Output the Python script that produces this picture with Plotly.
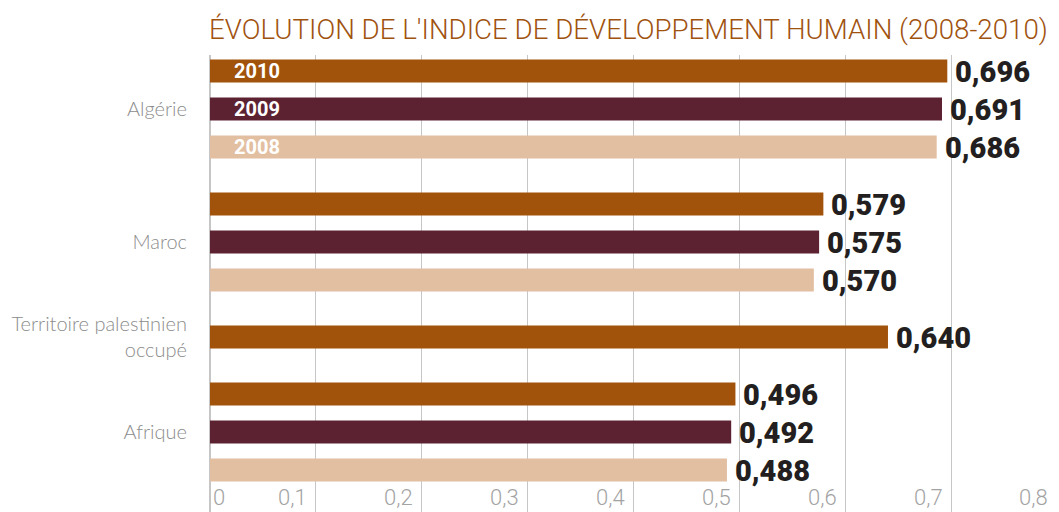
import plotly.graph_objects as go

# ---- data ----
countries = ["Algérie", "Maroc", "Territoire palestinien<br>occupé", "Afrique"]
years = ["2010", "2009", "2008"]
values_2010 = [0.696, 0.579, 0.640, 0.496]
values_2009 = [0.691, 0.575, None, 0.492]
values_2008 = [0.686, 0.570, None, 0.488]
x_tick_values = [0, 0.1, 0.2, 0.3, 0.4, 0.5, 0.6, 0.7, 0.8]
x_tick_labels = ["0", "0,1", "0,2", "0,3", "0,4", "0,5", "0,6", "0,7", "0,8"]
title_text = "ÉVOLUTION DE L'INDICE DE DÉVELOPPEMENT HUMAIN (2008-2010)"

colors = {"2010": "#a1520b", "2009": "#5c2232", "2008": "#e2bfa1"}
series = {"2010": values_2010, "2009": values_2009, "2008": values_2008}

# ---- layout computation: rows per country, gap between groups ----
GAP = 0.5
row_pos = {y: [] for y in years}
centers = []
cur = 0.0
for i in range(len(countries)):
    present = [y for y in years if series[y][i] is not None]
    start = cur
    for y in present:
        row_pos[y].append(cur)
        cur += 1
    for y in years:
        if series[y][i] is None:
            row_pos[y].append(None)
    centers.append(start + (len(present) - 1) / 2)
    cur += GAP

# page body has an 8px margin -> figure drawn at (8, 8)
OFF = 8
W, H = 1059 - OFF, 512 - OFF
plot_left = 210 - OFF
plot_top = 55 - OFF
plot_bottom = H
px_per_row = 38
first_px = 71 - OFF
top_val = -(first_px - plot_top) / px_per_row
bottom_val = top_val + (plot_bottom - plot_top) / px_per_row
plot_h = plot_bottom - plot_top

def paper_y(px):
    return (plot_bottom - px) / plot_h

fig = go.Figure()
annotations = []
value_font = dict(family="Roboto, sans-serif", size=29, color="#231f20", weight=900)
for y in years:
    xs, ys = [], []
    for v, p in zip(series[y], row_pos[y]):
        if v is None:
            continue
        xs.append(v)
        ys.append(p)
        annotations.append(dict(
            x=v, y=p, xref="x", yref="y", text=f"{v:.3f}".replace(".", ","),
            showarrow=False, xanchor="left", yanchor="middle", xshift=6, yshift=-1,
            font=value_font,
        ))
    fig.add_trace(go.Bar(
        x=xs, y=ys, orientation="h", width=0.6,
        marker=dict(color=colors[y], line=dict(width=0)),
        name=y, showlegend=False, hoverinfo="x",
    ))

# year labels inside the first group's bars
for y in years:
    annotations.append(dict(
        x=0.021, y=row_pos[y][0], xref="x", yref="y", text=y, showarrow=False,
        xanchor="left", yanchor="middle",
        font=dict(family="Roboto, sans-serif", size=20, color="white", weight=700),
    ))
# x tick labels (at the bottom, left of each gridline)
for v, t in zip(x_tick_values, x_tick_labels):
    annotations.append(dict(
        x=v, y=paper_y(497 - OFF), xref="x", yref="paper", text=t, showarrow=False,
        xanchor="left" if v == 0 else "right", yanchor="middle",
        xshift=1 if v == 0 else -7,
        font=dict(family="Roboto, sans-serif", size=22, color="#a3a3a3", weight=300),
    ))
# title
annotations.append(dict(
    x=0, y=paper_y(30 - OFF), xref="paper", yref="paper", text=title_text,
    showarrow=False, xanchor="left", yanchor="middle", xshift=-3,
    font=dict(family="Roboto, sans-serif", size=27.7, color="#a0520f", weight=300),
))

fig.update_layout(
    width=W, height=H,
    margin=dict(l=plot_left, r=1, t=plot_top, b=0, pad=0),
    paper_bgcolor="white", plot_bgcolor="white",
    barmode="overlay",
    xaxis=dict(range=[0, 0.8005], tickvals=x_tick_values, showticklabels=False,
               showgrid=True, gridcolor="#c6c6c6", gridwidth=1,
               zeroline=True, zerolinecolor="#c6c6c6", zerolinewidth=2,
               showline=False, fixedrange=True),
    yaxis=dict(range=[bottom_val, top_val], tickvals=centers, ticktext=countries,
               showgrid=False, zeroline=False, showline=False,
               ticks="", ticklabelstandoff=22, fixedrange=True,
               tickfont=dict(family="Lato, sans-serif", size=20, color="#8c8c8c", weight=300)),
    annotations=annotations,
)

fig.write_html("out.html")
